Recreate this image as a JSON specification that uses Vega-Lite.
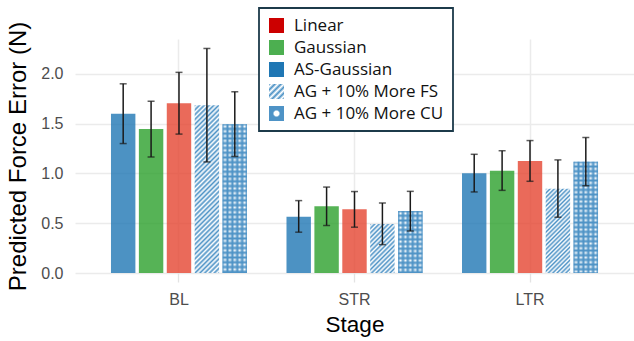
{
"$schema":"https://vega.github.io/schema/vega-lite/v6.json",
"width":559,"height":234,
"autosize":{"type":"none"},
"padding":{"left":75,"top":39,"right":0,"bottom":68},
"background":"#ffffff",
"config":{"view":{"stroke":null}},
"data":{"values":[
{"Stage":"BL","Series":"AS-Gaussian","value":1.60,"lo":1.30,"hi":1.90},
{"Stage":"BL","Series":"Gaussian","value":1.445,"lo":1.165,"hi":1.725},
{"Stage":"BL","Series":"Linear","value":1.705,"lo":1.395,"hi":2.015},
{"Stage":"BL","Series":"AG + 10% More FS","value":1.685,"lo":1.115,"hi":2.255},
{"Stage":"BL","Series":"AG + 10% More CU","value":1.495,"lo":1.17,"hi":1.82},
{"Stage":"STR","Series":"AS-Gaussian","value":0.566,"lo":0.41,"hi":0.727},
{"Stage":"STR","Series":"Gaussian","value":0.67,"lo":0.477,"hi":0.863},
{"Stage":"STR","Series":"Linear","value":0.64,"lo":0.46,"hi":0.818},
{"Stage":"STR","Series":"AG + 10% More FS","value":0.493,"lo":0.285,"hi":0.703},
{"Stage":"STR","Series":"AG + 10% More CU","value":0.622,"lo":0.422,"hi":0.82},
{"Stage":"LTR","Series":"AS-Gaussian","value":1.002,"lo":0.814,"hi":1.192},
{"Stage":"LTR","Series":"Gaussian","value":1.028,"lo":0.83,"hi":1.228},
{"Stage":"LTR","Series":"Linear","value":1.126,"lo":0.921,"hi":1.33},
{"Stage":"LTR","Series":"AG + 10% More FS","value":0.845,"lo":0.56,"hi":1.136},
{"Stage":"LTR","Series":"AG + 10% More CU","value":1.116,"lo":0.876,"hi":1.36}
]},
"encoding":{
"x":{"field":"Stage","type":"nominal","sort":["BL","STR","LTR"],"scale":{"domain":["BL","STR","LTR"],"paddingInner":0.225,"paddingOuter":0.205},"title":"Stage",
 "axis":{"labelFont":"Liberation Sans","labelFontSize":16,"labelColor":"#4d4d4d","labelPadding":9,"labelAngle":0,"domain":false,"ticks":true,"tickColor":"#e3e3e3","tickSize":9,"tickWidth":1.3,"grid":true,"gridColor":"#ebebeb","gridWidth":1.5,"titleFont":"Liberation Sans","titleFontSize":22.5,"titleFontWeight":"normal","titleColor":"#000000","titlePadding":6}},
"xOffset":{"field":"Series","type":"nominal","scale":{"domain":["AS-Gaussian","Gaussian","Linear","AG + 10% More FS","AG + 10% More CU"],"paddingInner":0.125,"paddingOuter":0}},
"y":{"field":"value","type":"quantitative","scale":{"domain":[0,2.35],"nice":false},"title":"Predicted Force Error (N)",
 "axis":{"values":[0,0.5,1,1.5,2],"format":".1f","labelFont":"Liberation Sans","labelFontSize":16,"labelColor":"#4d4d4d","labelPadding":12,"domain":false,"ticks":false,"grid":true,"gridColor":"#ebebeb","gridWidth":1.5,"titleFont":"Liberation Sans","titleFontSize":24,"titleFontWeight":"normal","titleColor":"#000000","titlePadding":10}}
},
"layer":[
{"transform":[{"filter":"false"}],"mark":{"type":"bar"},
 "encoding":{"color":{"field":"Series","type":"nominal",
  "scale":{"domain":["Linear","Gaussian","AS-Gaussian","AG + 10% More FS","AG + 10% More CU"],
   "range":["#cc0000","#4caf50","#1f77b4",
    {"expr":"{gradient:'linear',x1:0,y1:0,x2:1,y2:1,stops:[{offset:0,color:'#4e93c6'},{offset:0.1,color:'#fff'},{offset:0.2,color:'#4e93c6'},{offset:0.3,color:'#fff'},{offset:0.4,color:'#4e93c6'},{offset:0.5,color:'#fff'},{offset:0.6,color:'#4e93c6'},{offset:0.7,color:'#fff'},{offset:0.8,color:'#4e93c6'},{offset:0.9,color:'#fff'},{offset:1,color:'#4e93c6'}]}"},
    {"expr":"{gradient:'radial',x1:0.5,y1:0.5,r1:0,x2:0.5,y2:0.5,r2:0.5,stops:[{offset:0,color:'#fff'},{offset:0.3,color:'#fff'},{offset:0.5,color:'#4e93c6'},{offset:1,color:'#4e93c6'}]}"}]},
  "legend":{"title":null,"orient":"none","legendX":184,"legendY":-31,"direction":"vertical","padding":9,"fillColor":"#ffffff","strokeColor":"#1c3a4a","labelFont":"Open Sans","labelFontSize":17,"labelColor":"#111111","labelLimit":300,"symbolType":"square","symbolSize":225,"symbolStrokeWidth":0,"rowPadding":4,"labelOffset":9,
   "encode":{"legend":{"update":{"strokeWidth":{"value":1.8}}}}}}}},
{"transform":[{"filter":{"field":"Series","oneOf":["AS-Gaussian","Gaussian","Linear"]}}],
 "mark":{"type":"bar","fillOpacity":0.8},
 "encoding":{"fill":{"field":"Series","type":"nominal","scale":{"domain":["Linear","Gaussian","AS-Gaussian"],"range":["#e54531","#2ca02c","#1f77b4"]},"legend":null}}},
{"transform":[{"filter":"datum.Series === 'AG + 10% More FS' && datum.Stage === 'BL'"}],
 "mark":{"type":"bar","fill":{"gradient":"linear","x1":0,"y1":0,"x2":0.163,"y2":1.122,"stops":[{"offset":0,"color":"#4e93c6"},{"offset":0.0125,"color":"#fff"},{"offset":0.025,"color":"#4e93c6"},{"offset":0.0375,"color":"#fff"},{"offset":0.05,"color":"#4e93c6"},{"offset":0.0625,"color":"#fff"},{"offset":0.075,"color":"#4e93c6"},{"offset":0.0875,"color":"#fff"},{"offset":0.1,"color":"#4e93c6"},{"offset":0.1125,"color":"#fff"},{"offset":0.125,"color":"#4e93c6"},{"offset":0.1375,"color":"#fff"},{"offset":0.15,"color":"#4e93c6"},{"offset":0.1625,"color":"#fff"},{"offset":0.175,"color":"#4e93c6"},{"offset":0.1875,"color":"#fff"},{"offset":0.2,"color":"#4e93c6"},{"offset":0.2125,"color":"#fff"},{"offset":0.225,"color":"#4e93c6"},{"offset":0.2375,"color":"#fff"},{"offset":0.25,"color":"#4e93c6"},{"offset":0.2625,"color":"#fff"},{"offset":0.275,"color":"#4e93c6"},{"offset":0.2875,"color":"#fff"},{"offset":0.3,"color":"#4e93c6"},{"offset":0.3125,"color":"#fff"},{"offset":0.325,"color":"#4e93c6"},{"offset":0.3375,"color":"#fff"},{"offset":0.35,"color":"#4e93c6"},{"offset":0.3625,"color":"#fff"},{"offset":0.375,"color":"#4e93c6"},{"offset":0.3875,"color":"#fff"},{"offset":0.4,"color":"#4e93c6"},{"offset":0.4125,"color":"#fff"},{"offset":0.425,"color":"#4e93c6"},{"offset":0.4375,"color":"#fff"},{"offset":0.45,"color":"#4e93c6"},{"offset":0.4625,"color":"#fff"},{"offset":0.475,"color":"#4e93c6"},{"offset":0.4875,"color":"#fff"},{"offset":0.5,"color":"#4e93c6"},{"offset":0.5125,"color":"#fff"},{"offset":0.525,"color":"#4e93c6"},{"offset":0.5375,"color":"#fff"},{"offset":0.55,"color":"#4e93c6"},{"offset":0.5625,"color":"#fff"},{"offset":0.575,"color":"#4e93c6"},{"offset":0.5875,"color":"#fff"},{"offset":0.6,"color":"#4e93c6"},{"offset":0.6125,"color":"#fff"},{"offset":0.625,"color":"#4e93c6"},{"offset":0.6375,"color":"#fff"},{"offset":0.65,"color":"#4e93c6"},{"offset":0.6625,"color":"#fff"},{"offset":0.675,"color":"#4e93c6"},{"offset":0.6875,"color":"#fff"},{"offset":0.7,"color":"#4e93c6"},{"offset":0.7125,"color":"#fff"},{"offset":0.725,"color":"#4e93c6"},{"offset":0.7375,"color":"#fff"},{"offset":0.75,"color":"#4e93c6"},{"offset":0.7625,"color":"#fff"},{"offset":0.775,"color":"#4e93c6"},{"offset":0.7875,"color":"#fff"},{"offset":0.8,"color":"#4e93c6"},{"offset":0.8125,"color":"#fff"},{"offset":0.825,"color":"#4e93c6"},{"offset":0.8375,"color":"#fff"},{"offset":0.85,"color":"#4e93c6"},{"offset":0.8625,"color":"#fff"},{"offset":0.875,"color":"#4e93c6"},{"offset":0.8875,"color":"#fff"},{"offset":0.9,"color":"#4e93c6"},{"offset":0.9125,"color":"#fff"},{"offset":0.925,"color":"#4e93c6"},{"offset":0.9375,"color":"#fff"},{"offset":0.95,"color":"#4e93c6"},{"offset":0.9625,"color":"#fff"},{"offset":0.975,"color":"#4e93c6"},{"offset":0.9875,"color":"#fff"},{"offset":1,"color":"#4e93c6"}]}}},
{"transform":[{"filter":"datum.Series === 'AG + 10% More FS' && datum.Stage === 'STR'"}],
 "mark":{"type":"bar","fill":{"gradient":"linear","x1":0,"y1":0,"x2":0.597,"y2":1.2,"stops":[{"offset":0,"color":"#4e93c6"},{"offset":0.03125,"color":"#fff"},{"offset":0.0625,"color":"#4e93c6"},{"offset":0.09375,"color":"#fff"},{"offset":0.125,"color":"#4e93c6"},{"offset":0.15625,"color":"#fff"},{"offset":0.1875,"color":"#4e93c6"},{"offset":0.21875,"color":"#fff"},{"offset":0.25,"color":"#4e93c6"},{"offset":0.28125,"color":"#fff"},{"offset":0.3125,"color":"#4e93c6"},{"offset":0.34375,"color":"#fff"},{"offset":0.375,"color":"#4e93c6"},{"offset":0.40625,"color":"#fff"},{"offset":0.4375,"color":"#4e93c6"},{"offset":0.46875,"color":"#fff"},{"offset":0.5,"color":"#4e93c6"},{"offset":0.53125,"color":"#fff"},{"offset":0.5625,"color":"#4e93c6"},{"offset":0.59375,"color":"#fff"},{"offset":0.625,"color":"#4e93c6"},{"offset":0.65625,"color":"#fff"},{"offset":0.6875,"color":"#4e93c6"},{"offset":0.71875,"color":"#fff"},{"offset":0.75,"color":"#4e93c6"},{"offset":0.78125,"color":"#fff"},{"offset":0.8125,"color":"#4e93c6"},{"offset":0.84375,"color":"#fff"},{"offset":0.875,"color":"#4e93c6"},{"offset":0.90625,"color":"#fff"},{"offset":0.9375,"color":"#4e93c6"},{"offset":0.96875,"color":"#fff"},{"offset":1,"color":"#4e93c6"}]}}},
{"transform":[{"filter":"datum.Series === 'AG + 10% More FS' && datum.Stage === 'LTR'"}],
 "mark":{"type":"bar","fill":{"gradient":"linear","x1":0,"y1":0,"x2":0.345,"y2":1.19,"stops":[{"offset":0,"color":"#4e93c6"},{"offset":0.02,"color":"#fff"},{"offset":0.04,"color":"#4e93c6"},{"offset":0.06,"color":"#fff"},{"offset":0.08,"color":"#4e93c6"},{"offset":0.1,"color":"#fff"},{"offset":0.12,"color":"#4e93c6"},{"offset":0.14,"color":"#fff"},{"offset":0.16,"color":"#4e93c6"},{"offset":0.18,"color":"#fff"},{"offset":0.2,"color":"#4e93c6"},{"offset":0.22,"color":"#fff"},{"offset":0.24,"color":"#4e93c6"},{"offset":0.26,"color":"#fff"},{"offset":0.28,"color":"#4e93c6"},{"offset":0.3,"color":"#fff"},{"offset":0.32,"color":"#4e93c6"},{"offset":0.34,"color":"#fff"},{"offset":0.36,"color":"#4e93c6"},{"offset":0.38,"color":"#fff"},{"offset":0.4,"color":"#4e93c6"},{"offset":0.42,"color":"#fff"},{"offset":0.44,"color":"#4e93c6"},{"offset":0.46,"color":"#fff"},{"offset":0.48,"color":"#4e93c6"},{"offset":0.5,"color":"#fff"},{"offset":0.52,"color":"#4e93c6"},{"offset":0.54,"color":"#fff"},{"offset":0.56,"color":"#4e93c6"},{"offset":0.58,"color":"#fff"},{"offset":0.6,"color":"#4e93c6"},{"offset":0.62,"color":"#fff"},{"offset":0.64,"color":"#4e93c6"},{"offset":0.66,"color":"#fff"},{"offset":0.68,"color":"#4e93c6"},{"offset":0.7,"color":"#fff"},{"offset":0.72,"color":"#4e93c6"},{"offset":0.74,"color":"#fff"},{"offset":0.76,"color":"#4e93c6"},{"offset":0.78,"color":"#fff"},{"offset":0.8,"color":"#4e93c6"},{"offset":0.82,"color":"#fff"},{"offset":0.84,"color":"#4e93c6"},{"offset":0.86,"color":"#fff"},{"offset":0.88,"color":"#4e93c6"},{"offset":0.9,"color":"#fff"},{"offset":0.92,"color":"#4e93c6"},{"offset":0.94,"color":"#fff"},{"offset":0.96,"color":"#4e93c6"},{"offset":0.98,"color":"#fff"},{"offset":1,"color":"#4e93c6"}]}}},
{"transform":[{"filter":{"field":"Series","equal":"AG + 10% More CU"}}],
 "mark":{"type":"bar","fill":"#4e93c6"}},
{"transform":[{"filter":"datum.Series === 'AG + 10% More CU' && datum.Stage === 'BL'"}],
 "mark":{"type":"bar","fill":{"gradient":"linear","x1":0,"y1":0,"x2":0,"y2":1,"stops":[{"offset":0,"color":"rgba(255,255,255,0)"},{"offset":0.016,"color":"#fff"},{"offset":0.032,"color":"rgba(255,255,255,0)"},{"offset":0.048,"color":"#fff"},{"offset":0.064,"color":"rgba(255,255,255,0)"},{"offset":0.08,"color":"#fff"},{"offset":0.096,"color":"rgba(255,255,255,0)"},{"offset":0.112,"color":"#fff"},{"offset":0.128,"color":"rgba(255,255,255,0)"},{"offset":0.144,"color":"#fff"},{"offset":0.16,"color":"rgba(255,255,255,0)"},{"offset":0.176,"color":"#fff"},{"offset":0.192,"color":"rgba(255,255,255,0)"},{"offset":0.208,"color":"#fff"},{"offset":0.224,"color":"rgba(255,255,255,0)"},{"offset":0.24,"color":"#fff"},{"offset":0.256,"color":"rgba(255,255,255,0)"},{"offset":0.272,"color":"#fff"},{"offset":0.288,"color":"rgba(255,255,255,0)"},{"offset":0.304,"color":"#fff"},{"offset":0.32,"color":"rgba(255,255,255,0)"},{"offset":0.336,"color":"#fff"},{"offset":0.352,"color":"rgba(255,255,255,0)"},{"offset":0.368,"color":"#fff"},{"offset":0.384,"color":"rgba(255,255,255,0)"},{"offset":0.4,"color":"#fff"},{"offset":0.416,"color":"rgba(255,255,255,0)"},{"offset":0.432,"color":"#fff"},{"offset":0.448,"color":"rgba(255,255,255,0)"},{"offset":0.464,"color":"#fff"},{"offset":0.48,"color":"rgba(255,255,255,0)"},{"offset":0.496,"color":"#fff"},{"offset":0.512,"color":"rgba(255,255,255,0)"},{"offset":0.528,"color":"#fff"},{"offset":0.544,"color":"rgba(255,255,255,0)"},{"offset":0.56,"color":"#fff"},{"offset":0.576,"color":"rgba(255,255,255,0)"},{"offset":0.592,"color":"#fff"},{"offset":0.608,"color":"rgba(255,255,255,0)"},{"offset":0.624,"color":"#fff"},{"offset":0.64,"color":"rgba(255,255,255,0)"},{"offset":0.656,"color":"#fff"},{"offset":0.672,"color":"rgba(255,255,255,0)"},{"offset":0.688,"color":"#fff"},{"offset":0.704,"color":"rgba(255,255,255,0)"},{"offset":0.72,"color":"#fff"},{"offset":0.736,"color":"rgba(255,255,255,0)"},{"offset":0.752,"color":"#fff"},{"offset":0.768,"color":"rgba(255,255,255,0)"},{"offset":0.784,"color":"#fff"},{"offset":0.8,"color":"rgba(255,255,255,0)"},{"offset":0.816,"color":"#fff"},{"offset":0.832,"color":"rgba(255,255,255,0)"},{"offset":0.848,"color":"#fff"},{"offset":0.864,"color":"rgba(255,255,255,0)"},{"offset":0.88,"color":"#fff"},{"offset":0.896,"color":"rgba(255,255,255,0)"},{"offset":0.912,"color":"#fff"},{"offset":0.928,"color":"rgba(255,255,255,0)"},{"offset":0.944,"color":"#fff"},{"offset":0.96,"color":"rgba(255,255,255,0)"},{"offset":0.976,"color":"#fff"},{"offset":0.992,"color":"rgba(255,255,255,0)"}]}}},
{"transform":[{"filter":"datum.Series === 'AG + 10% More CU' && datum.Stage === 'STR'"}],
 "mark":{"type":"bar","fill":{"gradient":"linear","x1":0,"y1":0,"x2":0,"y2":1,"stops":[{"offset":0,"color":"rgba(255,255,255,0)"},{"offset":0.038,"color":"#fff"},{"offset":0.076,"color":"rgba(255,255,255,0)"},{"offset":0.114,"color":"#fff"},{"offset":0.152,"color":"rgba(255,255,255,0)"},{"offset":0.19,"color":"#fff"},{"offset":0.228,"color":"rgba(255,255,255,0)"},{"offset":0.266,"color":"#fff"},{"offset":0.304,"color":"rgba(255,255,255,0)"},{"offset":0.342,"color":"#fff"},{"offset":0.38,"color":"rgba(255,255,255,0)"},{"offset":0.418,"color":"#fff"},{"offset":0.456,"color":"rgba(255,255,255,0)"},{"offset":0.494,"color":"#fff"},{"offset":0.532,"color":"rgba(255,255,255,0)"},{"offset":0.57,"color":"#fff"},{"offset":0.608,"color":"rgba(255,255,255,0)"},{"offset":0.646,"color":"#fff"},{"offset":0.684,"color":"rgba(255,255,255,0)"},{"offset":0.722,"color":"#fff"},{"offset":0.76,"color":"rgba(255,255,255,0)"},{"offset":0.798,"color":"#fff"},{"offset":0.836,"color":"rgba(255,255,255,0)"},{"offset":0.874,"color":"#fff"},{"offset":0.912,"color":"rgba(255,255,255,0)"},{"offset":0.95,"color":"#fff"},{"offset":0.988,"color":"rgba(255,255,255,0)"}]}}},
{"transform":[{"filter":"datum.Series === 'AG + 10% More CU' && datum.Stage === 'LTR'"}],
 "mark":{"type":"bar","fill":{"gradient":"linear","x1":0,"y1":0,"x2":0,"y2":1,"stops":[{"offset":0,"color":"rgba(255,255,255,0)"},{"offset":0.021,"color":"#fff"},{"offset":0.042,"color":"rgba(255,255,255,0)"},{"offset":0.063,"color":"#fff"},{"offset":0.084,"color":"rgba(255,255,255,0)"},{"offset":0.105,"color":"#fff"},{"offset":0.126,"color":"rgba(255,255,255,0)"},{"offset":0.147,"color":"#fff"},{"offset":0.168,"color":"rgba(255,255,255,0)"},{"offset":0.189,"color":"#fff"},{"offset":0.21,"color":"rgba(255,255,255,0)"},{"offset":0.231,"color":"#fff"},{"offset":0.252,"color":"rgba(255,255,255,0)"},{"offset":0.273,"color":"#fff"},{"offset":0.294,"color":"rgba(255,255,255,0)"},{"offset":0.315,"color":"#fff"},{"offset":0.336,"color":"rgba(255,255,255,0)"},{"offset":0.357,"color":"#fff"},{"offset":0.378,"color":"rgba(255,255,255,0)"},{"offset":0.399,"color":"#fff"},{"offset":0.42,"color":"rgba(255,255,255,0)"},{"offset":0.441,"color":"#fff"},{"offset":0.462,"color":"rgba(255,255,255,0)"},{"offset":0.483,"color":"#fff"},{"offset":0.504,"color":"rgba(255,255,255,0)"},{"offset":0.525,"color":"#fff"},{"offset":0.546,"color":"rgba(255,255,255,0)"},{"offset":0.567,"color":"#fff"},{"offset":0.588,"color":"rgba(255,255,255,0)"},{"offset":0.609,"color":"#fff"},{"offset":0.63,"color":"rgba(255,255,255,0)"},{"offset":0.651,"color":"#fff"},{"offset":0.672,"color":"rgba(255,255,255,0)"},{"offset":0.693,"color":"#fff"},{"offset":0.714,"color":"rgba(255,255,255,0)"},{"offset":0.735,"color":"#fff"},{"offset":0.756,"color":"rgba(255,255,255,0)"},{"offset":0.777,"color":"#fff"},{"offset":0.798,"color":"rgba(255,255,255,0)"},{"offset":0.819,"color":"#fff"},{"offset":0.84,"color":"rgba(255,255,255,0)"},{"offset":0.861,"color":"#fff"},{"offset":0.882,"color":"rgba(255,255,255,0)"},{"offset":0.903,"color":"#fff"},{"offset":0.924,"color":"rgba(255,255,255,0)"},{"offset":0.945,"color":"#fff"},{"offset":0.966,"color":"rgba(255,255,255,0)"},{"offset":0.987,"color":"#fff"},{"offset":1,"color":"rgba(255,255,255,0)"}]}}},
{"transform":[{"filter":{"field":"Series","equal":"AG + 10% More CU"}}],
 "mark":{"type":"bar","fill":{"gradient":"linear","x1":0,"y1":0,"x2":1,"y2":0,"stops":[{"offset":0,"color":"#4e93c6"},{"offset":0.1,"color":"rgba(78,147,198,0)"},{"offset":0.2,"color":"#4e93c6"},{"offset":0.3,"color":"rgba(78,147,198,0)"},{"offset":0.4,"color":"#4e93c6"},{"offset":0.5,"color":"rgba(78,147,198,0)"},{"offset":0.6,"color":"#4e93c6"},{"offset":0.7,"color":"rgba(78,147,198,0)"},{"offset":0.8,"color":"#4e93c6"},{"offset":0.9,"color":"rgba(78,147,198,0)"},{"offset":1,"color":"#4e93c6"}]}}},
{"mark":{"type":"rule","color":"#1a1a1a","strokeWidth":1.5},
 "encoding":{"y":{"field":"lo","type":"quantitative","title":"Predicted Force Error (N)"},"y2":{"field":"hi"}}},
{"mark":{"type":"tick","color":"#1a1a1a","size":7,"thickness":1.5},
 "encoding":{"y":{"field":"lo","type":"quantitative","title":"Predicted Force Error (N)"}}},
{"mark":{"type":"tick","color":"#1a1a1a","size":7,"thickness":1.5},
 "encoding":{"y":{"field":"hi","type":"quantitative","title":"Predicted Force Error (N)"}}}
]
}
